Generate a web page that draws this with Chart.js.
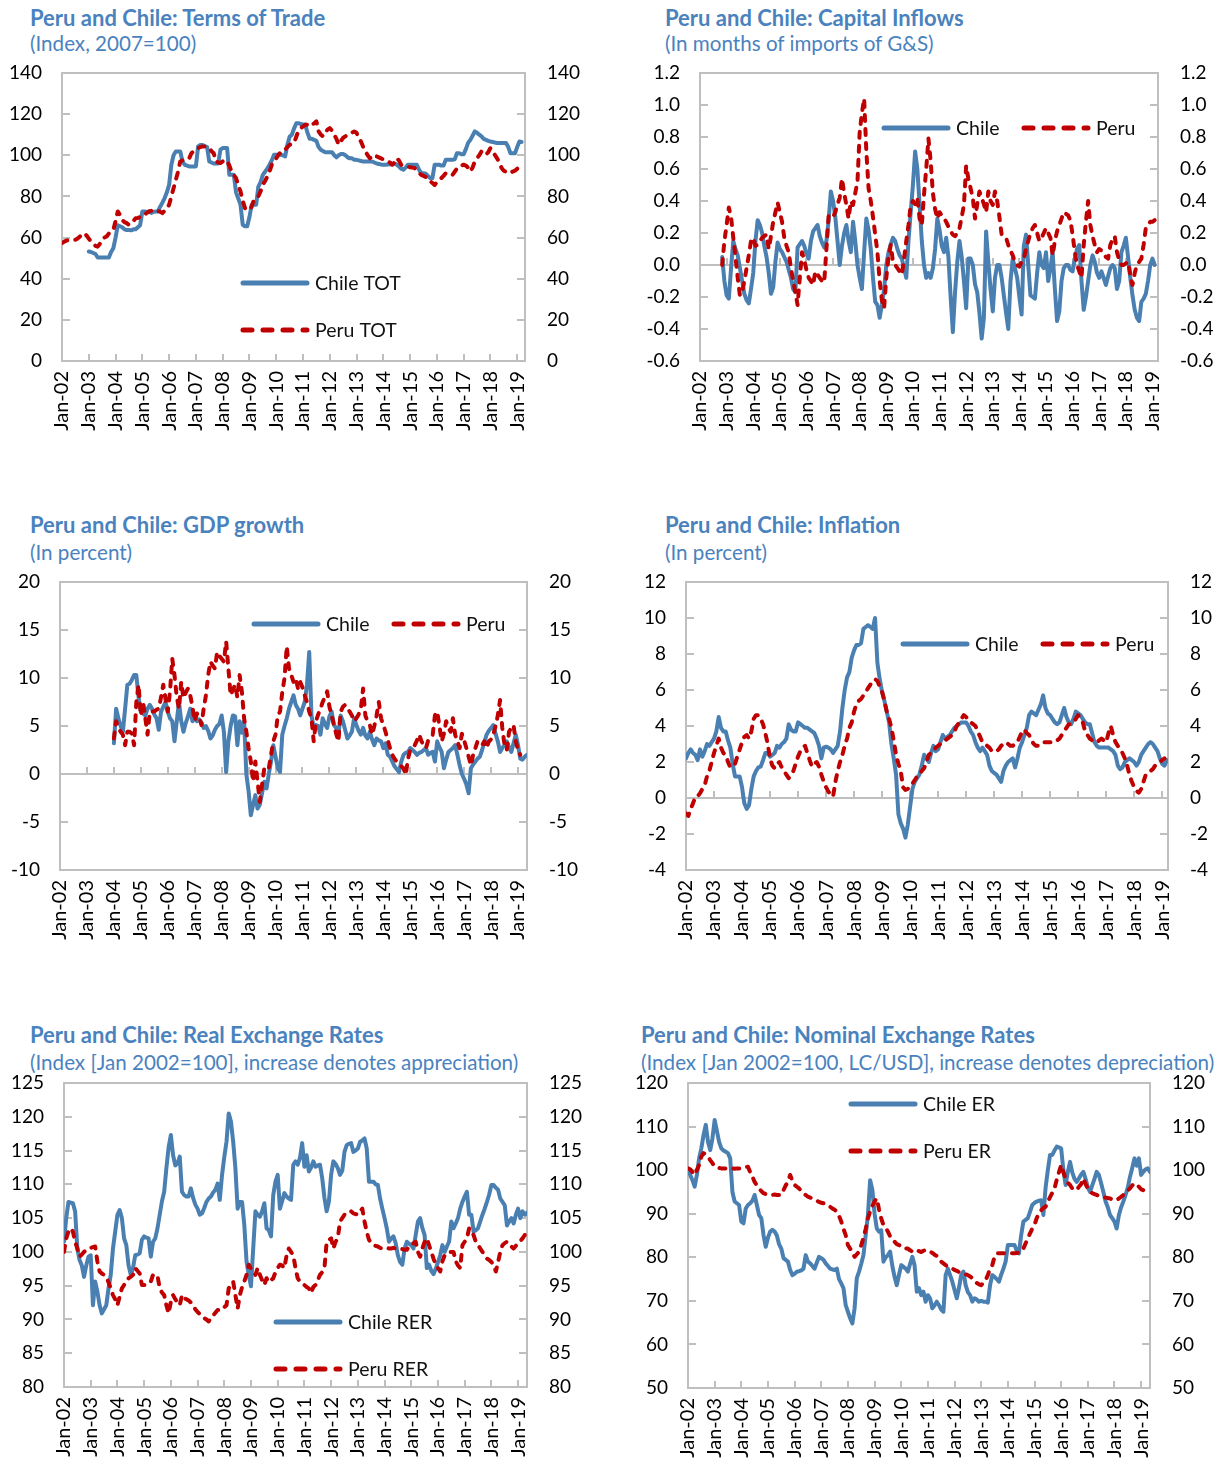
<!DOCTYPE html>
<html>
<head>
<meta charset="utf-8">
<script src="https://cdn.jsdelivr.net/npm/chart.js@4.4.1/dist/chart.umd.min.js"></script>
<style>
  body { margin:0; background:#fff; width:1225px; height:1463px; position:relative; overflow:hidden; font-family:Lato, sans-serif; }
  .title { position:absolute; font-weight:700; font-size:22px; line-height:24px; color:#4A82BE; white-space:nowrap; }
  .sub { position:absolute; font-size:20.6px; line-height:24px; color:#4A82BE; white-space:nowrap; }
  canvas { position:absolute; }
</style>
</head>
<body>
<div class="title" style="left:30px;top:6px">Peru and Chile: Terms of Trade</div>
<div class="sub" style="left:30px;top:31px">(Index, 2007=100)</div>
<div class="title" style="left:665px;top:6px">Peru and Chile: Capital Inflows</div>
<div class="sub" style="left:665px;top:31px">(In months of imports of G&amp;S)</div>
<div class="title" style="left:30px;top:513px">Peru and Chile: GDP growth</div>
<div class="sub" style="left:30px;top:540px">(In percent)</div>
<div class="title" style="left:665px;top:513px">Peru and Chile: Inflation</div>
<div class="sub" style="left:665px;top:540px">(In percent)</div>
<div class="title" style="left:30px;top:1023px">Peru and Chile: Real Exchange Rates</div>
<div class="sub" style="left:30px;top:1050px">(Index [Jan 2002=100], increase denotes appreciation)</div>
<div class="title" style="left:641px;top:1023px">Peru and Chile: Nominal Exchange Rates</div>
<div class="sub" style="left:641px;top:1050px">(Index [Jan 2002=100, LC/USD], increase denotes depreciation)</div>

<canvas id="c1"></canvas>
<canvas id="c2"></canvas>
<canvas id="c3"></canvas>
<canvas id="c4"></canvas>
<canvas id="c5"></canvas>
<canvas id="c6"></canvas>

<script>
// Year labels for the monthly x axis (one every 12 months, starting Jan 2002)
const YEAR_TICKS = ['Jan-02','Jan-03','Jan-04','Jan-05','Jan-06','Jan-07','Jan-08','Jan-09','Jan-10',
  'Jan-11','Jan-12','Jan-13','Jan-14','Jan-15','Jan-16','Jan-17','Jan-18','Jan-19'];

// Value-axis tick labels
const TOT_YTICKS = [0, 20, 40, 60, 80, 100, 120, 140];
const CAPFLOW_YTICKS = [-0.6, -0.4, -0.2, 0.0, 0.2, 0.4, 0.6, 0.8, 1.0, 1.2];
const GDP_YTICKS = [-10, -5, 0, 5, 10, 15, 20];
const INFL_YTICKS = [-4, -2, 0, 2, 4, 6, 8, 10, 12];
const RER_YTICKS = [80, 85, 90, 95, 100, 105, 110, 115, 120, 125];
const NER_YTICKS = [50, 60, 70, 80, 90, 100, 110, 120];

// Terms of trade (index, 2007=100); *_START = month offset from Jan 2002
const CHILE_TOT_START = 12;
const CHILE_TOT = [
  53.2,53,52.5,52,50.3,50.3,50.3,50.3,50.3,50.3,53,54.8,
  60,66,65.5,65,64,63.7,63.7,63.5,64,64,65,66,
  72.7,72.7,72.5,72.7,72,72.5,72.7,72.7,75,77,79.2,82,
  85.6,95.4,100,101.9,101.9,101.9,97,95.4,95,94.6,94.6,94.6,
  94.6,104.3,105,105,104.5,104,97,96.5,96,96,96,102.7,
  103.5,103.5,103.5,90.5,90.5,90.5,82,79,76,66.2,65.5,65.5,
  70,75.9,75.9,75.9,84.8,87,90.5,92,93.5,95.4,97.5,100.2,
  100.2,100.2,100.2,100,99.5,105,109,110,113,115.6,115.6,115.2,
  115,115,111,108,108,107.5,107,104,102.7,102,101.5,101.5,
  101.5,101.5,100,99,100,100.6,100.6,100,99,98.5,98.5,97.8,
  97.8,97.5,97.2,97,97,97,97,97,96.5,96,95.8,95.5,
  95.4,95.4,95.5,95.6,95.8,95.8,95.5,94.5,93.5,93,94,95.4,
  95.4,95.4,95.4,95.4,93,91.3,91.3,91,90,88.9,88.9,95.4,
  95.4,95.4,95,95,97.8,97.8,97.8,97.8,98,101,101,100.5,
  100.5,103,106,107.5,109.5,111.6,111,110,109.2,108,107.5,107,
  106.7,106.5,106.2,106,106,106,106,106,104,101,101,101,
  104,106.7,106.5
];
const PERU_TOT_START = 0;
const PERU_TOT = [
  57.3,58,58.5,58.9,58.9,58.9,58.9,59.5,60.5,61.5,62.1,61,
  59.5,58,57,56,55.6,57,58.5,60,60.5,62,63,63.7,
  68,72.7,71,68.6,67.5,67,66.2,67,68,69.4,69.5,70,
  70.2,71,72,72.7,73,73.2,73.5,73,72.5,71.9,73,74.5,
  75.9,80,84,88,92,97,97.5,97.5,97.8,98.5,101,102,
  103,103.5,104,104.3,104.3,104,103.5,102,101,97,96.5,96.2,
  97,97.8,97,95,92.1,90.5,88.9,85.5,82.4,78,74.3,73.5,
  73.5,75,78.3,79.2,80,82.5,85.6,87.5,89.7,92,95.4,97,
  98.5,100.2,101.5,102.5,102.7,104,105.1,105.5,106,109,112,113.2,
  114,114.8,114.8,114,115,115.5,116.5,111.6,110,109.2,111,112.5,
  113.2,112,110,108,105.1,107,108.5,109.2,110,110.5,111,111.6,
  111,108,106.7,104,101.9,100,98.6,99.5,100.2,99.5,99,98.5,
  98,97.8,97,96.5,95.4,96.5,98.6,97.5,95.4,95,94.6,94.5,
  94.2,94,93.8,92.5,91.5,90.5,90,89.5,88.9,87.5,86.5,85.6,
  87,88,88.9,90,91.3,91.5,91,90.5,92,93.5,94.6,95,
  95.4,95,94,92.1,94,97,98.6,100,101.9,101,100.2,101.5,
  103.5,102,100.2,98.5,96.5,93.8,92.5,92,91.3,91.5,92.1,92.5,
  93.5,93.8
];

// Capital inflows (months of imports of goods and services)
const CHILE_CAPFLOW_START = 10;
const CHILE_CAPFLOW = [
  0.05,-0.10,
  -0.19,-0.21,-0.02,0.15,0.10,0.06,-0.02,-0.10,-0.18,-0.22,-0.24,-0.15,
  -0.05,0.15,0.28,0.25,0.20,0.12,0.05,-0.05,-0.18,-0.14,0.02,0.14,
  0.10,0.08,0.05,0.02,-0.03,-0.08,-0.15,-0.17,0.11,0.13,0.15,0.12,
  0.07,0.04,0.15,0.21,0.23,0.25,0.18,0.14,0.11,0.15,0.28,0.46,
  0.40,0.30,0.15,0.00,0.12,0.20,0.25,0.15,0.08,0.27,0.15,0.00,
  -0.08,-0.15,0.08,0.29,0.22,0.10,-0.08,-0.23,-0.25,-0.33,-0.25,-0.15,
  0.00,0.08,0.13,0.17,0.15,0.10,0.06,0.04,-0.02,-0.08,0.15,0.33,
  0.50,0.71,0.60,0.38,0.15,0.00,-0.08,-0.05,-0.08,-0.02,0.10,0.29,
  0.22,0.12,0.08,0.17,0.05,-0.20,-0.42,-0.17,0.02,0.15,0.05,-0.10,
  -0.27,0.04,0.04,0.00,-0.12,-0.17,-0.30,-0.46,-0.33,0.21,0.02,-0.15,
  -0.29,-0.08,0.00,0.00,-0.08,-0.19,-0.30,-0.40,-0.10,0.04,-0.02,-0.08,
  -0.20,-0.31,0.12,0.19,0.00,-0.19,-0.20,-0.21,-0.05,0.08,0.00,-0.02,
  0.08,-0.10,-0.02,0.08,-0.15,-0.35,-0.29,-0.10,-0.02,0.00,0.00,-0.03,
  -0.04,0.04,0.10,0.125,-0.10,-0.28,-0.20,-0.10,0.00,0.06,0.02,-0.05,
  -0.08,-0.04,-0.08,-0.125,-0.07,-0.02,0.00,-0.02,-0.15,-0.10,0.08,0.12,
  0.17,0.05,-0.08,-0.19,-0.28,-0.33,-0.35,-0.23,-0.21,-0.18,-0.10,0.00,
  0.04,0.00
];
const PERU_CAPFLOW_START = 10;
const PERU_CAPFLOW = [
  0.00,0.15,
  0.25,0.36,0.30,0.17,0.05,-0.08,-0.19,-0.17,-0.10,-0.02,0.06,0.15,
  0.17,0.12,0.125,0.15,0.17,0.18,0.19,0.10,0.18,0.27,0.33,0.39,
  0.33,0.27,0.17,0.12,0.08,-0.02,-0.10,-0.17,-0.25,-0.08,0.08,0.03,
  -0.03,-0.08,-0.10,-0.125,-0.04,-0.06,-0.08,-0.10,-0.11,0.10,0.31,0.30,
  0.30,0.33,0.38,0.42,0.54,0.45,0.375,0.29,0.40,0.375,0.45,0.52,
  0.83,0.95,1.04,0.71,0.48,0.40,0.30,0.19,0.08,-0.10,-0.22,-0.27,
  -0.08,0.05,0.125,0.02,0.00,-0.02,-0.04,-0.06,0.04,0.15,0.25,0.375,
  0.40,0.38,0.42,0.29,0.25,0.44,0.60,0.79,0.65,0.45,0.35,0.29,
  0.33,0.31,0.29,0.27,0.24,0.21,0.19,0.18,0.20,0.23,0.30,0.375,
  0.62,0.54,0.48,0.42,0.29,0.38,0.46,0.42,0.38,0.33,0.46,0.40,
  0.375,0.46,0.40,0.30,0.19,0.18,0.17,0.125,0.09,0.06,0.02,0.00,
  -0.01,0.02,0.04,0.10,0.15,0.20,0.23,0.25,0.20,0.15,0.17,0.20,
  0.23,0.20,0.17,0.06,0.15,0.21,0.25,0.29,0.33,0.32,0.31,0.28,
  0.19,0.08,0.00,-0.04,-0.08,0.125,0.27,0.40,0.25,0.18,0.125,0.08,
  0.10,0.09,0.07,0.05,0.04,0.125,0.16,0.18,0.08,0.03,0.00,0.00,
  0.01,0.02,-0.06,-0.125,-0.05,0.00,0.02,0.04,0.125,0.23,0.25,0.27,
  0.27,0.28
];

// Real GDP growth (percent, y/y)
const CHILE_GDP_START = 24;
const CHILE_GDP = [
  3.2,6.8,5.8,5.0,4.4,6.8,9.3,9.4,9.8,10.3,10.3,8.0,
  6.5,6.3,6.1,6.8,7.2,6.8,6.2,5.8,4.6,6.5,7.0,7.5,
  6.5,5.8,5.5,3.4,5.5,7.5,5.5,4.4,5.3,6.0,6.8,5.5,
  5.8,5.5,5.7,5.3,4.8,5.0,4.5,3.7,4.0,4.6,5.0,5.2,
  6.1,4.4,0.2,3.4,5.0,6.1,6.0,3.0,5.5,4.3,5.5,0.0,
  -1.8,-4.3,-3.2,-2.2,-3.6,-3.2,-2.0,-0.8,-1.5,0.0,1.3,3.0,
  1.8,0.6,0.2,4.1,5.0,5.8,6.8,7.5,8.2,7.2,6.8,6.1,
  6.8,7.5,9.3,12.7,6.1,4.8,5.1,5.0,4.1,5.8,5.2,4.8,
  6.0,6.5,5.1,4.8,4.1,6.1,5.5,4.6,3.7,4.0,4.4,5.8,
  5.1,4.5,4.1,4.8,4.0,3.7,4.4,3.6,3.0,3.7,3.5,3.4,
  2.7,3.2,2.0,1.8,1.3,0.8,0.5,0.2,1.3,2.0,2.2,2.3,
  2.7,2.5,2.3,2.0,2.2,2.3,2.5,2.7,2.0,2.2,2.3,1.3,
  3.4,2.8,2.3,0.6,1.5,2.3,2.5,2.7,3.0,2.0,0.9,0.0,
  -0.5,-1.1,-2.0,0.6,1.0,1.3,1.6,1.8,2.5,3.3,4.1,4.5,
  4.8,5.1,4.2,3.4,2.3,2.7,3.0,3.4,2.8,2.3,3.2,4.1,
  3.0,1.6,1.5,1.8,2.0
];
const PERU_GDP_START = 24;
const PERU_GDP = [
  3.7,5.5,4.8,4.4,4.1,3.0,4.4,4.4,4.2,3.0,7.5,9.3,
  6.1,7.5,5.8,4.1,6.5,6.5,6.5,6.7,6.8,8.0,9.3,7.8,
  6.5,8.6,12.0,10.3,8.0,6.8,9.6,7.9,8.5,8.9,8.2,7.0,
  5.5,6.3,6.0,5.1,6.8,8.2,10.3,11.7,11.3,11.0,12.7,12.3,
  12.0,11.7,13.8,11.0,8.2,8.8,9.3,8.0,10.3,8.6,5.8,4.4,
  2.7,1.3,-0.8,1.3,-0.8,-2.9,-1.1,0.6,0.8,0.6,2.0,3.4,
  4.1,6.1,6.5,8.5,10.0,13.3,11.0,10.3,9.6,10.0,8.9,9.6,
  9.0,8.2,7.5,6.5,5.8,3.4,5.5,6.2,6.8,7.5,8.0,8.6,
  7.0,6.1,5.1,4.2,3.4,6.5,7.0,7.2,6.8,6.5,6.1,5.5,
  5.8,6.2,6.8,8.9,6.1,5.5,5.1,4.1,5.0,6.1,7.5,5.8,
  5.1,4.4,3.5,2.7,2.0,1.6,1.3,1.0,0.8,0.6,-0.1,1.6,
  2.5,2.7,3.0,3.5,4.1,3.4,3.0,2.7,3.5,3.8,4.1,6.1,
  6.5,5.0,3.4,4.2,5.5,4.8,4.4,5.8,4.1,3.4,2.7,4.2,
  3.5,2.7,1.8,0.9,2.0,2.7,3.4,3.2,3.0,3.4,2.7,3.4,
  3.6,4.1,5.0,6.1,7.7,4.8,3.0,2.5,4.4,4.8,5.1,3.4,
  2.5,2.0
];

// Consumer price inflation (percent, y/y)
const CHILE_INFL_START = 0;
const CHILE_INFL = [
  2.2,2.5,2.7,2.5,2.4,2.1,2.7,2.3,2.6,3.0,2.9,3.1,
  3.3,3.7,4.5,3.9,3.7,3.7,3.2,2.8,1.9,1.2,1.2,1.2,
  0.6,-0.3,-0.6,-0.4,0.5,1.2,1.5,1.7,1.74,2.1,2.5,2.5,
  2.3,2.4,2.5,2.9,2.8,3.0,3.1,3.3,4.1,3.8,3.7,3.7,
  4.2,4.1,4.0,3.9,3.9,3.8,3.7,3.6,3.3,2.9,2.2,2.8,
  2.85,2.8,2.7,2.5,2.7,2.9,3.7,5.0,6.0,6.7,7.0,7.8,
  8.2,8.5,8.5,8.6,9.4,9.5,9.6,9.5,9.4,10.0,7.5,6.6,
  5.9,5.4,4.8,4.2,3.0,2.2,1.3,-0.9,-1.4,-1.7,-2.2,-1.5,
  -0.5,0.5,0.9,1.1,1.3,1.8,2.4,2.2,2.0,2.5,2.9,2.6,
  2.7,3.1,3.5,3.3,3.4,3.5,3.7,3.9,4.0,4.1,4.2,4.2,
  4.2,4.0,3.7,3.5,3.1,2.8,2.6,2.8,2.6,2.4,1.8,1.5,
  1.4,1.3,1.1,0.9,1.5,1.8,2.0,2.1,2.2,1.7,2.2,2.8,
  3.1,3.5,3.9,4.6,4.8,4.7,4.6,4.9,5.2,5.7,5.0,4.7,
  4.6,4.4,4.2,4.1,4.2,4.6,5.0,4.5,4.2,4.1,4.4,4.8,
  4.7,4.6,4.4,4.2,4.1,4.1,3.6,3.1,2.9,2.8,2.8,2.8,
  2.8,2.8,2.7,2.6,2.4,1.8,1.6,1.7,2.0,2.1,2.2,2.1,
  2.0,1.8,2.0,2.4,2.6,2.8,3.0,3.1,3.0,2.8,2.6,2.2,
  1.9,1.8,2.1
];
const PERU_INFL_START = 0;
const PERU_INFL = [
  -0.85,-1.0,-0.6,-0.3,0.07,0.1,0.26,0.5,0.7,1.2,1.5,2.0,
  2.5,2.9,3.3,2.8,2.5,2.4,2.0,1.7,1.8,1.9,2.3,2.7,
  3.1,3.4,3.5,3.3,3.7,4.4,4.6,4.6,4.4,4.1,3.6,3.0,
  2.2,1.8,1.65,1.9,2.0,1.7,1.5,1.3,1.1,1.3,1.5,1.9,
  2.3,2.6,2.8,2.9,2.5,2.1,1.74,1.9,2.0,1.74,1.3,0.9,
  0.6,0.35,0.2,0.07,0.9,1.5,2.0,2.4,2.9,3.3,3.9,4.2,
  4.8,5.2,5.4,5.5,5.7,5.9,6.1,6.3,6.5,6.6,6.5,6.2,
  5.9,5.4,4.8,4.4,3.9,3.2,2.4,1.9,1.5,0.6,0.45,0.5,
  0.7,0.8,1.0,1.2,1.3,1.5,1.65,2.0,2.4,2.5,2.6,2.8,
  2.9,3.0,3.1,3.2,3.3,3.4,3.5,3.7,4.0,4.2,4.4,4.6,
  4.5,4.3,4.2,4.1,4.0,3.7,3.4,3.1,3.0,2.9,2.8,2.6,
  2.6,2.6,2.7,2.9,3.0,3.1,3.0,2.9,2.9,3.0,3.1,3.4,
  3.7,3.8,3.6,3.5,3.2,3.0,2.9,2.9,3.0,3.1,3.1,3.1,
  3.1,3.1,3.1,3.2,3.3,3.5,3.7,3.9,4.1,4.1,4.2,4.4,
  4.6,4.4,4.2,3.7,3.5,3.3,3.2,3.1,3.1,3.2,3.3,3.2,
  3.1,3.6,4.0,3.5,3.1,2.9,2.7,2.5,2.2,1.8,1.3,0.9,
  0.6,0.4,0.3,0.5,0.9,1.3,1.4,1.5,1.6,1.8,1.9,2.0,
  2.1,2.2
];

// Real effective exchange rates (Jan 2002=100, increase = appreciation)
const CHILE_RER_START = 0;
const CHILE_RER = [
  101.5,105,107.4,107.3,107.2,106,100.5,98.8,98,96.3,98,99.3,
  99.5,92.1,95.6,94.1,92.1,90.9,91.5,92.1,94.6,96.6,100.5,103,
  105.5,106.2,105,102,101,98,96.6,97.6,99.5,99.6,99.8,101.8,
  102.3,102.1,102,99.3,101.5,102,103.5,105.5,107.5,108.9,112.4,115.5,
  117.3,114.3,112.8,113.1,114.1,108.9,108.4,108.2,108.2,109.4,108,107,
  106.4,105.5,105.7,106.5,107.4,107.9,108.2,108.8,109.2,110.1,107.7,111.4,
  114,116.3,120.5,119.3,116.3,112.4,106.4,107.4,107.4,104,98.6,96.6,
  94.9,100.5,106,105.5,105.2,106,107.2,103.5,103.2,102.3,108.4,110.4,
  111.4,106.4,107.5,108.7,108.2,107.9,107.7,112.9,113.4,112.9,113.9,116.1,
  112.6,114.3,111.9,112.5,113.4,112.6,112.8,112.9,110.9,108,106,107.4,
  111.4,113.4,113,112.4,111.4,112,114.8,115.8,116,116.1,114.8,115,
  115.3,116.3,116.5,116.8,115.3,110.4,110.4,110.4,110,109.9,107.9,106.4,
  105,103.5,101.5,102,102.3,101.3,99.5,98.5,98.1,100.5,101.5,101.2,
  101,100.5,102.5,104.5,105,103.5,102.5,97.6,98.1,97.2,96.7,97.5,
  98.5,99.5,101,100,100.8,101.5,104.5,103.5,104.2,105,106.4,107.4,
  108.2,108.9,105.5,105.5,103,103.2,103.5,104.5,105.5,106.4,107.4,108.5,
  109.9,109.9,109.5,109.2,107.9,107.4,106.9,103.9,104.5,105,104.2,105.5,
  106.4,105,106,105.5,105.8
];
const PERU_RER_START = 0;
const PERU_RER = [
  100,102,103,103.5,103,101.5,100.5,99.3,99.6,100,100.3,100.5,
  100.6,100.7,100.8,98.6,97.1,96.8,96.6,96.3,95.5,94.6,93.6,93,
  92.1,93.4,94.6,95.1,95.6,96.1,96.3,96.6,97.6,97.2,96.8,95.1,
  95.1,95.1,95.3,95.6,96.6,96.6,96.5,94.6,94,93.6,92.1,90.9,
  92.6,93.6,93,92.5,92.1,93.6,93.1,93,92.8,92.5,92.1,91.5,
  91.1,90.8,90.4,90.2,90,89.7,90.2,90.6,91,91.4,91.4,91.4,
  91.8,92.1,94.6,95.1,95.6,93.6,91.6,93.6,94.8,95.6,96.6,98.1,
  97.5,97.1,96.6,97.6,96.6,95.8,95.1,96.1,95.5,95.8,96.1,97,
  97.6,98.1,98,97.6,99.5,100.5,100,99.5,97.6,96.1,95.6,95.3,
  95.1,94.8,94.6,93.9,94.8,95.1,95.8,96.6,97,97.6,101.5,101.8,
  102,100.5,101.5,102,104.5,105,105.5,105.8,106,106,105.7,105.6,
  105.5,106,106.4,104.5,103,101.8,101.3,101,100.9,100.8,100.6,100.5,
  100.6,100.6,100.5,100.5,100.6,100.5,100.5,100.5,100.4,100.3,100.3,100.8,
  101,101.3,101.5,100,99.3,100.5,101.5,102,101,100,99,98.1,
  97.6,97.1,98.6,99.5,99.8,100,100,100,98.6,98,97.6,101,
  101.5,102,103.5,103,102.5,101.5,101,100.5,100,99.5,99,98.8,
  98.5,98.1,97.1,98.5,100,101,101.3,101.5,101,100.8,100.5,100.9,
  101.3,101.6,102,102.5,102.6
];

// Nominal exchange rates (Jan 2002=100, local currency per USD)
const CHILE_NER_START = 0;
const CHILE_NER = [
  100,98.9,97.7,96.2,98.9,102.7,105,108.1,110.4,106.5,104.6,107.3,
  111.5,109,106.5,105,104.5,104.2,103.9,102.7,95,92.8,92.4,92,
  88.2,87.8,91.2,92,92.4,93,94.3,92,89.7,89,85.1,82.4,
  84.5,85.9,86.3,85.9,85,83,82,79.8,79.4,79,77.1,75.9,
  76.2,76.7,76.8,77,77.4,80.5,79,78.6,78,77.4,78.8,80.1,
  79.8,79.4,78.6,78,77.4,77.2,77.1,77.4,75,74,72.9,69,
  67.5,66,64.8,68.3,75.2,76.7,78.5,80.5,85.1,89.7,97.7,95.5,
  90,86.6,85.9,86.2,79,80,80.5,81.3,78,75.5,73.6,76,
  78.2,77.8,77.4,76.7,78.5,80.1,78.2,72.1,72.9,71.3,72.1,69.8,
  71.3,70.5,68.3,69,69.8,69,68,67.5,75.9,77.4,75.9,74.4,
  72.5,70.6,73,75.9,76.7,73.6,72,71.3,69.8,70.6,70.3,69.8,
  70,69.8,69.8,69.6,73.6,75.9,75.5,75,74.4,76,77.4,79,
  82.8,82.8,82.8,82.8,81.5,80.9,85.1,88.2,88.6,89,90.5,92,
  92.5,92.8,93,93.1,89.7,96,100,103.5,103.5,104.5,105.4,105.2,
  105,100,96.6,99.6,101.9,99.5,98,97.3,98.1,99,99.6,98,
  96,95,96.5,98,99.6,98.9,97,95,92.8,91.5,89.7,89,
  88.2,86.6,89.7,91.5,92.8,94.3,96,98.5,100.5,102.7,101,102.7,
  98.9,99.6,100.2,100.4,99.6
];
const PERU_NER_START = 0;
const PERU_NER = [
  100.4,100.2,99.5,98.9,100,101.2,103.1,103.9,103.6,103.1,102.3,101.6,
  100.8,100.6,100.5,100.4,100.4,100.4,100.5,100.4,100.4,100.3,100.4,100.4,
  100.4,100.6,100.7,100.8,99.5,98.5,97.3,96.5,95.8,95.2,94.7,94.5,
  94.3,94.3,94.3,94.4,94.3,94.3,94.3,95.4,96.5,97.3,98.9,97.5,
  96.6,96.2,95.8,95.2,94.7,94.3,93.9,93.7,93.5,93.3,93,92.7,
  92.5,92.4,92.2,92,91.6,91.2,90.9,90.5,89.5,88.2,86.5,85.1,
  82.8,82,81,80.1,80.7,81.3,82.8,84.5,86.5,88.9,90.5,91.8,
  92.8,93.5,91,88.9,87.4,86.8,85.9,84.8,84.3,83.6,83,82.8,
  82.5,82,82,82,81.6,81.3,81.5,81.7,81.4,81.2,81.5,81.7,
  81.5,81.3,81,80.6,80.3,79.8,79,78.6,78.2,77.8,77.6,77.4,
  77.1,76.9,76.6,76.4,76.3,76.1,75.9,75.6,75.2,74.7,74.1,73.8,
  73.6,74.2,74.8,75.9,77.5,78.2,80.1,80.9,80.9,80.9,80.9,80.9,
  80.9,80.9,80.9,80.9,81,81.1,81.3,82,83.2,84.3,85.5,86.6,
  87.4,89,90.1,90.8,91.3,91.6,92.8,93.8,94.8,95.8,97.8,99.5,
  101.2,99.5,98.1,97.1,96.6,95.8,95.6,95.4,96.2,96.8,98.1,96.8,
  95.8,95.2,94.7,94.5,94.3,94.1,93.9,93.8,93.7,93.6,93.5,93.3,
  93.2,93.1,93.5,93.9,94.3,94.7,95.3,95.8,96.5,97,96.6,96.2,
  95.6,95.4,95.1,95,95
];

// ---------------------------------------------------------------------------
const BLUE = '#4A7FB1';
const RED = '#C00000';
const FRAME = '#BFBFBF';
const FONT = { family: 'Lato', size: 19 };
const XFONT = { family: 'Lato', size: 20 };

Chart.defaults.font.family = 'Lato';
Chart.defaults.font.size = 19;
Chart.defaults.color = '#000';

const toPoints = (start, values) => values.map((v, i) => ({ x: start + i, y: v }));

// Plot frame, zero line and inward tick marks
const framePlugin = {
  id: 'frame',
  beforeDatasetsDraw(chart) {
    const { ctx, chartArea: a, scales } = chart;
    const ys = scales.y, xs = scales.x;
    ctx.save();
    ctx.strokeStyle = FRAME;
    ctx.lineWidth = 2;
    ctx.strokeRect(a.left, a.top, a.right - a.left, a.bottom - a.top);
    let axisY = a.bottom;
    if (ys.min < 0) {
      axisY = Math.round(ys.getPixelForValue(0));
      ctx.beginPath();
      ctx.moveTo(a.left, axisY); ctx.lineTo(a.right, axisY);
      ctx.stroke();
    }
    ctx.beginPath();
    ys.ticks.forEach(t => {
      const py = Math.round(ys.getPixelForValue(t.value));
      if (py <= a.top + 1 || py >= a.bottom - 1) return;
      ctx.moveTo(a.left, py); ctx.lineTo(a.left + 8, py);
      ctx.moveTo(a.right - 8, py); ctx.lineTo(a.right, py);
    });
    xs.ticks.forEach(t => {
      if (t.value === 0) return;
      const px = Math.round(xs.getPixelForValue(t.value));
      ctx.moveTo(px, axisY); ctx.lineTo(px, axisY - 7);
    });
    ctx.stroke();
    ctx.restore();
  }
};

// Legend entries drawn inside the plot
function inlineLegend(items) {
  return {
    id: 'inlineLegend',
    afterDatasetsDraw(chart) {
      const ctx = chart.ctx;
      ctx.save();
      items.forEach(it => {
        const ds = chart.data.datasets[it.ds];
        ctx.beginPath();
        ctx.lineWidth = 5;
        ctx.lineCap = 'round';
        ctx.strokeStyle = ds.borderColor;
        ctx.setLineDash(ds.borderDash ? [9, 11] : []);
        ctx.moveTo(it.x, it.y);
        ctx.lineTo(it.x + 64, it.y);
        ctx.stroke();
        ctx.setLineDash([]);
        ctx.fillStyle = '#111';
        ctx.font = '19.5px Lato';
        ctx.textAlign = 'left';
        ctx.textBaseline = 'middle';
        ctx.fillText(ds.label, it.x + 72, it.y + 1);
      });
      ctx.restore();
    }
  };
}

// Value axis; the gap between labels and plot comes from an undrawn tick length
function valueAxis(position, ticks, decimals, width, gap) {
  return {
    type: 'linear',
    position,
    min: ticks[0],
    max: ticks[ticks.length - 1],
    grid: { display: false, drawTicks: true, tickLength: gap },
    border: { display: false },
    afterBuildTicks: s => { s.ticks = ticks.map(v => ({ value: v })); },
    afterFit: s => { s.width = width; },
    ticks: {
      padding: 0,
      color: '#000',
      font: FONT,
      callback: v => decimals ? Number(v).toFixed(decimals) : String(v)
    }
  };
}

function makePanel(p) {
  const cv = document.getElementById(p.id);
  cv.width = p.w; cv.height = p.h;
  cv.style.left = p.left + 'px';
  cv.style.top = p.top + 'px';
  cv.style.width = p.w + 'px';
  cv.style.height = p.h + 'px';
  const a = p.area;
  new Chart(cv, {
    type: 'line',
    data: {
      datasets: [
        {
          label: p.chile.label,
          data: toPoints(p.chile.start, p.chile.values),
          borderColor: BLUE,
          borderWidth: 4,
          borderJoinStyle: 'round',
          borderCapStyle: 'round',
          pointRadius: 0,
          tension: 0,
          fill: false,
          order: 1
        },
        {
          label: p.peru.label,
          data: toPoints(p.peru.start, p.peru.values),
          borderColor: RED,
          borderWidth: 4,
          borderDash: [6, 8],
          borderJoinStyle: 'round',
          borderCapStyle: 'round',
          pointRadius: 0,
          tension: 0,
          fill: false,
          order: 0
        }
      ]
    },
    options: {
      responsive: false,
      animation: false,
      events: [],
      layout: { padding: { top: a.t, left: 0, right: 0, bottom: 0 } },
      plugins: { legend: { display: false }, tooltip: { enabled: false } },
      scales: {
        x: {
          type: 'linear',
          min: 0,
          max: p.xMax,
          grid: { display: false, drawTicks: false },
          border: { display: false },
          afterBuildTicks: s => { s.ticks = YEAR_TICKS.map((_, i) => ({ value: i * 12 })); },
          afterFit: s => { s.height = p.h - a.b; },
          ticks: {
            autoSkip: false,
            minRotation: 90,
            maxRotation: 90,
            padding: 10,
            color: '#000',
            font: XFONT,
            callback: v => YEAR_TICKS[Math.round(v / 12)]
          }
        },
        y: valueAxis('left', p.yTicks, p.dec, a.l, 20),
        y2: valueAxis('right', p.yTicks, p.dec, p.w - a.r, 22)
      }
    },
    plugins: [framePlugin, inlineLegend(p.legend)]
  });
}

const PANELS = [
  { id: 'c1', left: 0, top: 60, w: 612, h: 390, area: { l: 62, r: 525, t: 13, b: 301 },
    yTicks: TOT_YTICKS, dec: 0, xMax: 207.5,
    chile: { label: 'Chile TOT', start: CHILE_TOT_START, values: CHILE_TOT },
    peru: { label: 'Peru TOT', start: PERU_TOT_START, values: PERU_TOT },
    legend: [{ ds: 0, x: 243, y: 223 }, { ds: 1, x: 243, y: 270 }] },
  { id: 'c2', left: 612, top: 60, w: 613, h: 390, area: { l: 88, r: 546, t: 13, b: 301 },
    yTicks: CAPFLOW_YTICKS, dec: 1, xMax: 206.5,
    chile: { label: 'Chile', start: CHILE_CAPFLOW_START, values: CHILE_CAPFLOW },
    peru: { label: 'Peru', start: PERU_CAPFLOW_START, values: PERU_CAPFLOW },
    legend: [{ ds: 0, x: 272, y: 68 }, { ds: 1, x: 412, y: 68 }] },
  { id: 'c3', left: 0, top: 569, w: 612, h: 390, area: { l: 60, r: 527, t: 13, b: 301 },
    yTicks: GDP_YTICKS, dec: 0, xMax: 208,
    chile: { label: 'Chile', start: CHILE_GDP_START, values: CHILE_GDP },
    peru: { label: 'Peru', start: PERU_GDP_START, values: PERU_GDP },
    legend: [{ ds: 0, x: 254, y: 55 }, { ds: 1, x: 394, y: 55 }] },
  { id: 'c4', left: 612, top: 569, w: 613, h: 390, area: { l: 74, r: 556, t: 13, b: 301 },
    yTicks: INFL_YTICKS, dec: 0, xMax: 206.5,
    chile: { label: 'Chile', start: CHILE_INFL_START, values: CHILE_INFL },
    peru: { label: 'Peru', start: PERU_INFL_START, values: PERU_INFL },
    legend: [{ ds: 0, x: 291, y: 75 }, { ds: 1, x: 431, y: 75 }] },
  { id: 'c5', left: 0, top: 1070, w: 612, h: 393, area: { l: 64, r: 527, t: 13, b: 317 },
    yTicks: RER_YTICKS, dec: 0, xMax: 208,
    chile: { label: 'Chile RER', start: CHILE_RER_START, values: CHILE_RER },
    peru: { label: 'Peru RER', start: PERU_RER_START, values: PERU_RER },
    legend: [{ ds: 0, x: 276, y: 252 }, { ds: 1, x: 276, y: 299 }] },
  { id: 'c6', left: 612, top: 1070, w: 613, h: 393, area: { l: 76, r: 538, t: 13, b: 318 },
    yTicks: NER_YTICKS, dec: 0, xMax: 208,
    chile: { label: 'Chile ER', start: CHILE_NER_START, values: CHILE_NER },
    peru: { label: 'Peru ER', start: PERU_NER_START, values: PERU_NER },
    legend: [{ ds: 0, x: 239, y: 34 }, { ds: 1, x: 239, y: 81 }] }
];

PANELS.forEach(makePanel);
</script>
</body>
</html>
